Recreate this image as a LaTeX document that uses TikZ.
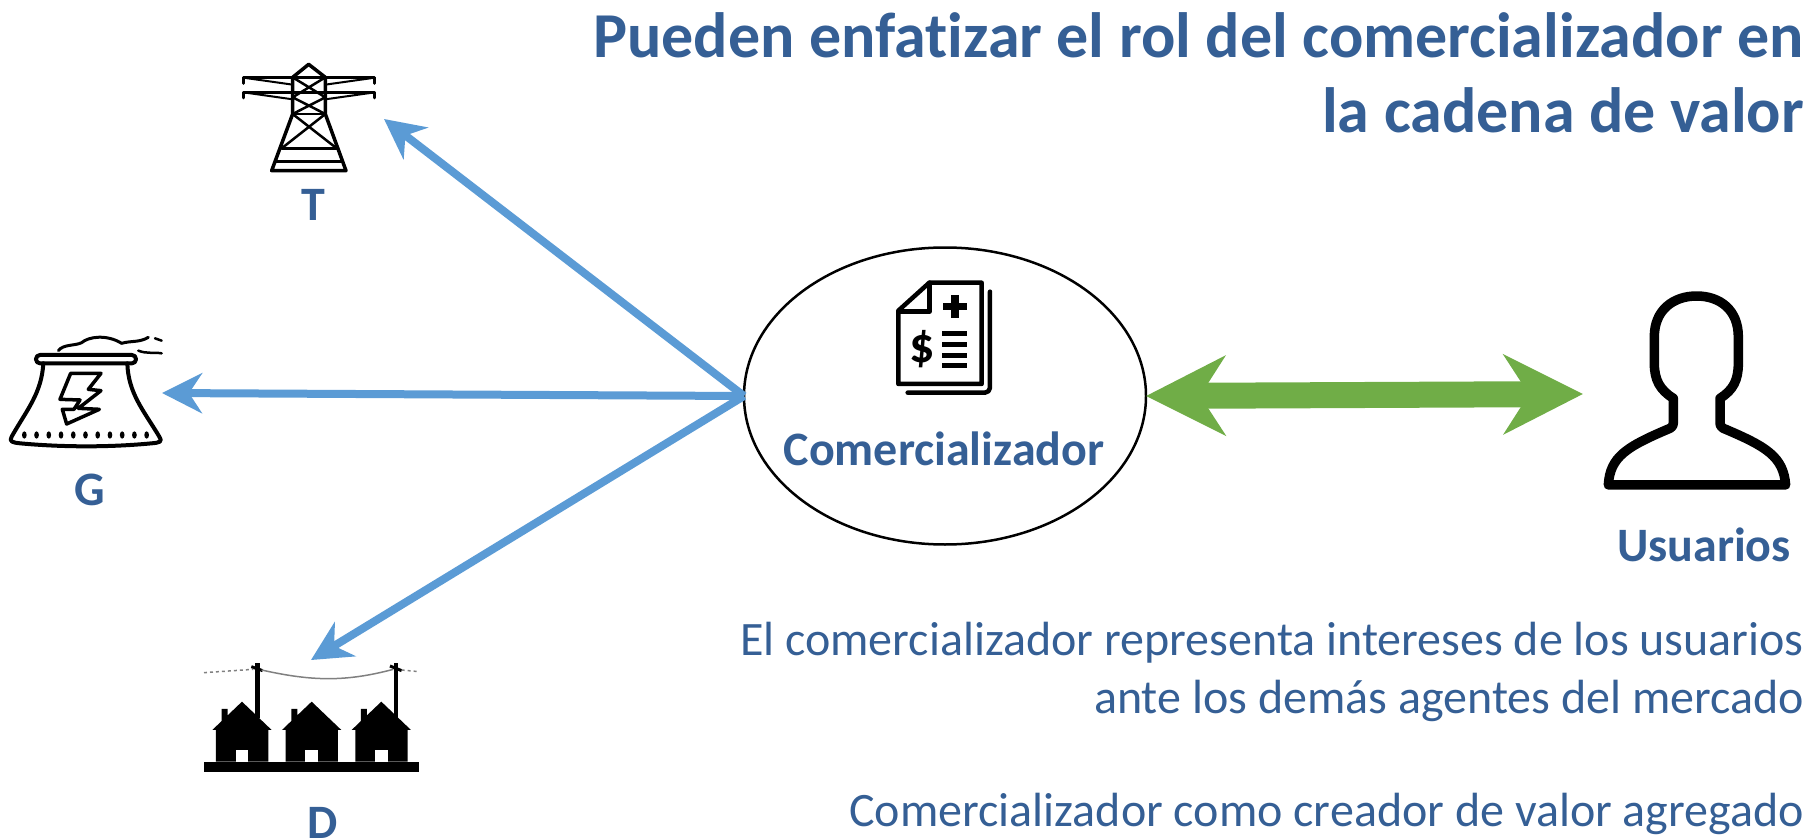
\documentclass[tikz,border=0pt]{standalone}
\usepackage{fontspec}
\setmainfont[Ligatures={NoCommon}]{Carlito}
\usetikzlibrary{arrows.meta}
\usetikzlibrary{shapes.geometric}
\definecolor{txtblue}{HTML}{355F95}
\definecolor{arrblue}{HTML}{5B9BD5}
\definecolor{arrgreen}{HTML}{70AD47}
\tikzset{heading/.style={anchor=north east, align=right, inner sep=0pt, text=txtblue, font=\fontsize{64}{75}\selectfont\bfseries},
  iconlabel/.style={anchor=center, inner sep=0pt, text=txtblue, font=\fontsize{48}{55}\selectfont\bfseries},
  bodytext/.style={anchor=north east, align=right, inner sep=0pt, text=txtblue, font=\fontsize{48}{58}\selectfont},
  bluearrow/.style={draw=arrblue, line width=8pt, -{Stealth[length=40pt, width=40pt, inset=13pt]}},
  greenarrow/.style={draw=arrgreen, line width=26pt, {Stealth[length=79pt, width=79pt, inset=25pt]}-{Stealth[length=79pt, width=79pt, inset=25pt]}},
  icon/.style={line width=#1, draw=black, line join=round, line cap=round}}

\begin{document}
\begin{tikzpicture}[x=1pt, y=-1pt]
    \useasboundingbox (0,0) rectangle (1808,840);

    \node[heading] (title) at (1804,12) {Pueden enfatizar el rol del comercializador en\\la cadena de valor};

    \node[shape=ellipse, draw=black, line width=2.5pt, inner sep=0pt, outer sep=0pt, minimum width=402pt, minimum height=297pt] (comer) at (945,396) {};
    \node[iconlabel] (comerlabel) at (944,449) {Comercializador};
    \node[iconlabel] (tlabel) at (313,205) {T};
    \node[iconlabel] (glabel) at (90,490) {G};
    \node[iconlabel] (dlabel) at (323,823) {D};
    \node[iconlabel] (ulabel) at (1704,545) {Usuarios};
    \node[bodytext] (repr) at (1804,622) {El comercializador representa intereses de los usuarios\\ante los demás agentes del mercado};
    \node[bodytext] (valor) at (1804,793) {Comercializador como creador de valor agregado};

    \coordinate (ttip) at (384,119);
    \coordinate (gtip) at (162,393);
    \coordinate (dtip) at (311,660);
    \coordinate (utip) at (1583,394);
    \draw[bluearrow] (comer.west) -- (ttip);
    \draw[bluearrow] (comer.west) -- (gtip);
    \draw[bluearrow] (comer.west) -- (dtip);
    \draw[greenarrow] (comer.east) -- (utip);

    % torre
    \begin{scope}[shift={(220,40)}, x=0.3333pt, y=-0.3333pt]
      \draw[icon=3.5pt] (155,392) -- (378,392) -- (316,222) -- (316,112) -- (266,73) -- (218,112) -- (218,222) -- cycle;
      \draw[icon=2.5pt] (218,112) -- (316,112) (218,222) -- (316,222) (185,325) -- (350,325) (168,365) -- (365,365);
      \draw[icon=2.5pt] (218,112) -- (316,172) -- (218,222) (316,112) -- (218,172) -- (316,222);
      \draw[icon=2.5pt] (218,222) -- (350,325) (316,222) -- (185,325);
      \foreach \y in {113,157} {
        \draw[icon=3pt] (70,\y+17) -- (70,\y) -- (465,\y) -- (465,\y+17);
        \draw[icon=2pt] (70,\y) -- (218,\y+21) (465,\y) -- (316,\y+21);
      }
    \end{scope}

    % planta
    \begin{scope}[shift={(0,320)}, x=0.3333pt, y=-0.3333pt]
      \draw[icon=4pt, rounded corners=4pt] (108,105) rectangle (408,130);
      \draw[icon=4pt] (130,130) .. controls (125,220) and (80,270) .. (35,350) .. controls (25,365) and (40,368) .. (60,370) .. controls (190,382) and (330,382) .. (455,370) .. controls (480,368) and (488,365) .. (478,350) .. controls (430,270) and (385,220) .. (382,130);
      \draw[icon=3.5pt] (212,160) -- (303,160) -- (265,208) -- (303,212) -- (235,265) -- (298,268) -- (200,312) -- (187,268) -- (222,268) -- (240,240) -- (180,238) -- cycle;
      \foreach \i in {0,...,10} {
        \fill (73+36.7*\i,345) ellipse (7 and 11);
      }
      \draw[icon=3pt] (175,92) .. controls (190,72) and (225,78) .. (245,68) .. controls (265,50) and (320,42) .. (365,70) .. controls (390,62) and (420,68) .. (445,52);
      \draw[icon=2.5pt] (465,55) -- (485,62) (415,92) .. controls (440,102) and (460,96) .. (485,100);
    \end{scope}

    % casas
    \begin{scope}[shift={(180,640)}, x=0.3333pt, y=-0.3333pt]
      \fill (72,365) rectangle (717,395);
      \foreach \h in {0,209,418} {
        \fill (\h+108,365) -- (\h+108,270) -- (\h+97,270) -- (\h+125,243) -- (\h+125,207) -- (\h+143,207) -- (\h+143,226) -- (\h+186,185) -- (\h+275,270) -- (\h+265,270) -- (\h+265,365) -- cycle;
        \fill[white] (\h+167,330) rectangle (\h+205,365);
      }
      \fill (225,70) rectangle (240,235);
      \fill (641,68) rectangle (655,235);
      \draw[line width=3pt] (214,80) -- (248,92);
      \draw[line width=3pt] (630,78) -- (665,92);
      \draw[draw=gray, line width=1.5pt] (245,90) .. controls (400,125) and (500,125) .. (640,88);
      \draw[draw=gray, line width=1.5pt, dashed] (72,98) -- (220,88) (665,90) -- (717,95);
    \end{scope}

    % factura
    \begin{scope}[shift={(860,260)}, x=0.3333pt, y=-0.3333pt]
      \draw[icon=4.5pt] (208,68) -- (365,68) -- (365,372) -- (115,372) -- (115,152) -- cycle;
      \draw[icon=4.5pt] (208,68) -- (208,155) -- (115,155);
      \draw[icon=4.5pt, rounded corners=5pt] (390,95) -- (390,398) -- (143,398);
      \draw[line width=7.5pt] (285,105) -- (285,175) (250,140) -- (322,140);
      \foreach \y in {221,253,286,318} {
        \draw[line width=5pt] (247,\y) -- (322,\y);
      }
      \node[inner sep=0pt, font=\fontsize{50}{50}\selectfont\bfseries] (dollar) at (187,268) {\$};
    \end{scope}

    % usuario
    \begin{scope}[shift={(1560,270)}, x=0.3333pt, y=-0.3333pt]
      \draw[icon=9.5pt] (145,645) -- (677,645) .. controls (670,560) and (620,530) .. (490,475) .. controls (480,468) and (480,465) .. (480,450) -- (480,385) .. controls (520,360) and (535,330) .. (535,280) -- (535,200) .. controls (535,120) and (480,78) .. (410,78) .. controls (340,78) and (283,120) .. (283,200) -- (283,280) .. controls (283,330) and (300,360) .. (340,385) -- (340,450) .. controls (340,465) and (340,468) .. (330,475) .. controls (200,530) and (150,560) .. (145,645) -- cycle;
    \end{scope}
\end{tikzpicture}
\end{document}
